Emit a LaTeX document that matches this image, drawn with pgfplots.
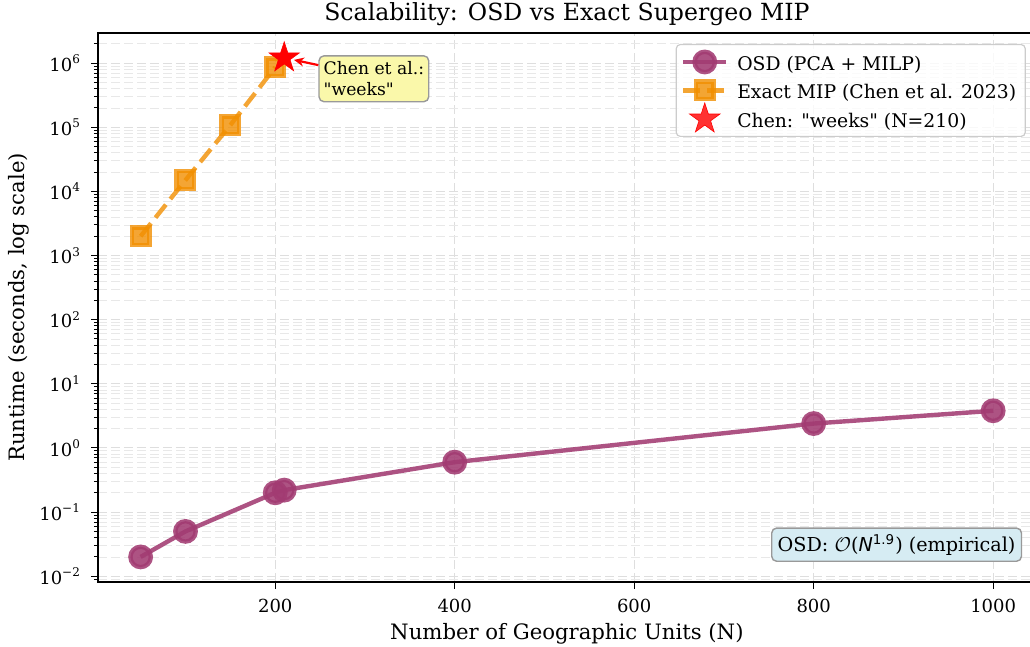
\documentclass[border=0pt]{standalone}
\usepackage{fontspec}
\setmainfont{DejaVu Serif}
\newfontfamily\rawserif{DejaVu Serif}
\newfontfamily\dvsans{DejaVu Sans}
\usepackage{pgfplots}
\pgfplotsset{compat=1.18}
\usetikzlibrary{arrows.meta,calc}
\definecolor{osd}{HTML}{A23B72}
\definecolor{mip}{HTML}{F18F01}
\definecolor{annyel}{RGB}{250,248,170}
\definecolor{annblue}{RGB}{214,236,243}
\pgfdeclareplotmark{fstar}{%
  \pgfpathmoveto{\pgfpointpolar{90}{\pgfplotmarksize}}%
  \pgfpathlineto{\pgfpointpolar{126}{0.382\pgfplotmarksize}}%
  \pgfpathlineto{\pgfpointpolar{162}{\pgfplotmarksize}}%
  \pgfpathlineto{\pgfpointpolar{198}{0.382\pgfplotmarksize}}%
  \pgfpathlineto{\pgfpointpolar{234}{\pgfplotmarksize}}%
  \pgfpathlineto{\pgfpointpolar{270}{0.382\pgfplotmarksize}}%
  \pgfpathlineto{\pgfpointpolar{306}{\pgfplotmarksize}}%
  \pgfpathlineto{\pgfpointpolar{342}{0.382\pgfplotmarksize}}%
  \pgfpathlineto{\pgfpointpolar{18}{\pgfplotmarksize}}%
  \pgfpathlineto{\pgfpointpolar{54}{0.382\pgfplotmarksize}}%
  \pgfpathclose\pgfusepathqfillstroke}
\begin{document}
\begin{tikzpicture}
\begin{axis}[
  scale only axis, width=468.9pt, height=274.5pt,
  ymode=log, log basis y=10,
  xmin=2.5, xmax=1047.5, ymin=8.13e-3, ymax=2.95e6,
  xtick={200,400,600,800,1000},
  xticklabels={200,400,600,800,1000},
  ytick={1e-2,1e-1,1,10,100,1e3,1e4,1e5,1e6},
  minor ytick={9e-3,2e-2,3e-2,4e-2,5e-2,6e-2,7e-2,8e-2,9e-2,
    2e-1,3e-1,4e-1,5e-1,6e-1,7e-1,8e-1,9e-1,
    2,3,4,5,6,7,8,9,20,30,40,50,60,70,80,90,
    200,300,400,500,600,700,800,900,2e3,3e3,4e3,5e3,6e3,7e3,8e3,9e3,
    2e4,3e4,4e4,5e4,6e4,7e4,8e4,9e4,2e5,3e5,4e5,5e5,6e5,7e5,8e5,9e5,2e6},
  yticklabels={10\textsuperscript{−2},10\textsuperscript{−1},10\textsuperscript{0},10\textsuperscript{1},10\textsuperscript{2},10\textsuperscript{3},10\textsuperscript{4},10\textsuperscript{5},10\textsuperscript{6}},
  tick align=outside, xtick pos=bottom, ytick pos=left,
  major tick length=3.5pt, minor tick length=2pt,
  tick style={black, line width=0.5pt},
  xticklabel shift=1.5pt, yticklabel shift=1.5pt,
  grid=both,
  major grid style={dash pattern=on 4.5pt off 2pt, black!13, line width=0.5pt},
  minor grid style={dash pattern=on 4.5pt off 2pt, black!9, line width=0.4pt},
  axis line style={black, line width=0.6pt},
  ticklabel style={font=\fontsize{9}{10}\selectfont},
  title={Scalability: OSD vs Exact Supergeo MIP},
  title style={font=\fontsize{11.8}{13}\selectfont, at={(0.5,1)}, anchor=base, yshift=0.2pt},
  xlabel={Number of Geographic Units (N)},
  xlabel style={font=\fontsize{10.6}{12}\selectfont, at={(0.5,0)}, anchor=base, yshift=-28.6pt},
  ylabel={Runtime (seconds, log scale)},
  ylabel style={font=\fontsize{10.6}{12}\selectfont, at={(0,0.5)}, anchor=center, yshift=39.5pt},
  legend cell align=left,
  legend image code/.code={%
    \begin{pgfinterruptboundingbox}
    \draw[#1, mark repeat=2, mark phase=2] plot coordinates {(0pt,0pt) (10.75pt,0pt) (21.5pt,0pt)};
    \end{pgfinterruptboundingbox}
    \path[draw=none, fill=none] (0pt,-3.5pt) rectangle (21.5pt,3.5pt);},
  legend style={at={(1,1)}, anchor=north east, xshift=-5pt, yshift=-5.5pt,
    draw=black!20, line width=0.6pt, rounded corners=2pt, fill=white, fill opacity=0.8, text opacity=1,
    font=\fontsize{9.4}{11}\selectfont, inner xsep=3.5pt, inner ysep=3pt, row sep=2.85pt, column sep=4.5pt,
    nodes={inner sep=1pt, text height=8.95pt, text depth=0.45pt}},
]
\addplot[color=osd, line width=2.2pt, mark=*, mark size=5.1pt, opacity=0.88,
  mark options={solid, draw=none}]
  coordinates {(50,0.02) (100,0.05) (200,0.2) (210,0.22) (400,0.6) (800,2.4) (1000,3.8)};
\addlegendentry{OSD (PCA + MILP)}
\addplot[color=mip, line width=2.2pt, dash pattern=on 8.3pt off 3.6pt, mark=square*, mark size=4.4pt, opacity=0.8,
  mark options={solid, draw=none}]
  coordinates {(50,2000) (100,15000) (150,108000) (200,864000)};
\addlegendentry{Exact MIP (Chen et al. 2023)}
\addplot[only marks, color=red, mark=fstar, mark size=8pt, mark options={line width=0.3pt}]
  coordinates {(210,1209600)};
\addlegendentry{Chen: {\rawserif"weeks"} (N=210)}
\node[anchor=west, fill=annyel, draw=black!40, line width=0.7pt, rounded corners=2.5pt,
  align=left, font=\fontsize{8.6}{10.3}\selectfont, inner xsep=2.3pt, inner ysep=3pt] (ann) at (axis cs:248,5.7e5)
  {Chen et al.:\\{\rawserif"weeks"}};
\draw[-{Stealth[length=5pt,width=4.5pt]}, red, line width=1.1pt, shorten >=5pt]
  ([yshift=-5pt]ann.north west) -- (axis cs:210,1.21e6);
\node[anchor=south east, fill=annblue, draw=black!40, line width=0.7pt, rounded corners=2.5pt,
  font=\fontsize{9.6}{11}\selectfont, inner sep=3pt] at ([xshift=-6.8pt,yshift=10pt]rel axis cs:1,0)
  {OSD: $\mathcal{O}$({\dvsans\itshape N}\textsuperscript{\dvsans 1.9}) (empirical)};
\coordinate (bl) at (rel axis cs:0,0);
\end{axis}
\pgfresetboundingbox
\useasboundingbox ($(bl)+(-49pt,-32.5pt)$) rectangle ($(bl)+(466pt,291pt)$);
\end{tikzpicture}
\end{document}
